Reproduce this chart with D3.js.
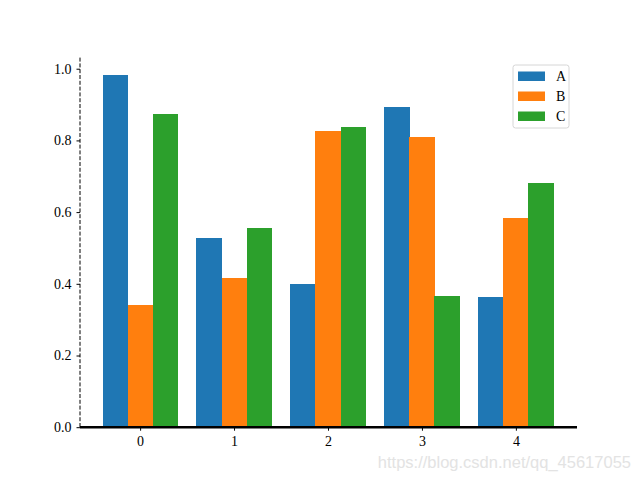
<!DOCTYPE html>
<html><head><meta charset="utf-8">
<script src="https://cdn.jsdelivr.net/npm/d3@7"></script>
<style>body{margin:0;background:#fff}svg{display:block}</style>
</head><body>
<svg id="c" width="640" height="480"></svg>
<script>
const categories = ["0","1","2","3","4"];
const seriesNames = ["A","B","C"];
const valuesA = [0.982, 0.528, 0.399, 0.893, 0.363];
const valuesB = [0.341, 0.416, 0.826, 0.809, 0.583];
const valuesC = [0.874, 0.556, 0.837, 0.366, 0.681];
const yTicks = [0.0, 0.2, 0.4, 0.6, 0.8, 1.0];
const colors = ["#1f77b4", "#ff7f0e", "#2ca02c"];
const series = [valuesA, valuesB, valuesC];

const svg = d3.select("#c");
const L = 80, R = 576, T = 57.6, B = 427.2;
const font = "'Liberation Serif', 'DejaVu Serif', serif";
const x = d3.scaleLinear().domain([-0.64, 4.64]).range([L, R]);
const y = d3.scaleLinear().domain([0, 1.031]).range([B, T]);
const bw = 0.8 / 3;

series.forEach((vals, si) => {
  svg.append("g").attr("shape-rendering", "crispEdges").selectAll("rect").data(vals).join("rect")
    .attr("x", (d, i) => x(i - 0.4 + si * bw))
    .attr("width", (d, i) => x(i - 0.4 + (si + 1) * bw) - x(i - 0.4 + si * bw) + 0.3)
    .attr("y", d => y(d))
    .attr("height", d => y(0) - y(d))
    .attr("fill", colors[si]);
});

const xAxis = svg.append("g").attr("transform", `translate(0,${B})`)
  .call(d3.axisBottom(x).tickValues(categories.map((c, i) => i)).tickFormat((d, i) => categories[i]).tickSize(3.5).tickPadding(5));
xAxis.select(".domain").remove();
xAxis.selectAll("text").attr("font-family", font).attr("font-size", 14).attr("fill", "#000");
xAxis.selectAll("line").attr("stroke", "#000");

const yAxis = svg.append("g").attr("transform", `translate(${L},0)`)
  .call(d3.axisLeft(y).tickValues(yTicks).tickFormat(d3.format(".1f")).tickSize(3.5).tickPadding(5));
yAxis.select(".domain").remove();
yAxis.selectAll("text").attr("font-family", font).attr("font-size", 14).attr("fill", "#000");
yAxis.selectAll("line").attr("stroke", "#000");

svg.append("line").attr("x1", L).attr("x2", L).attr("y1", T).attr("y2", B)
  .attr("stroke", "#000").attr("stroke-width", 1).attr("stroke-dasharray", "4,1.8");
svg.append("line").attr("x1", L).attr("x2", R + 1).attr("y1", B).attr("y2", B)
  .attr("stroke", "#000").attr("stroke-width", 2.5);

const lg = svg.append("g").attr("transform", "translate(513,65)");
lg.append("rect").attr("width", 56).attr("height", 63).attr("rx", 2.5)
  .attr("fill", "#fff").attr("fill-opacity", 0.8).attr("stroke", "#d6d6d6").attr("stroke-width", 1);
seriesNames.forEach((n, i) => {
  lg.append("rect").attr("x", 5).attr("y", 6.5 + i * 20).attr("width", 27).attr("height", 9.5).attr("fill", colors[i]);
  lg.append("text").attr("x", 43).attr("y", 16 + i * 20).text(n)
    .attr("font-family", font).attr("font-size", 14).attr("fill", "#000");
});

svg.append("text").attr("x", 631).attr("y", 468).attr("text-anchor", "end")
  .attr("font-family", "'Liberation Sans', Arial, sans-serif").attr("font-size", 16.5)
  .attr("fill", "#e3e3e3").text("https://blog.csdn.net/qq_45617055");
</script>
</body></html>
